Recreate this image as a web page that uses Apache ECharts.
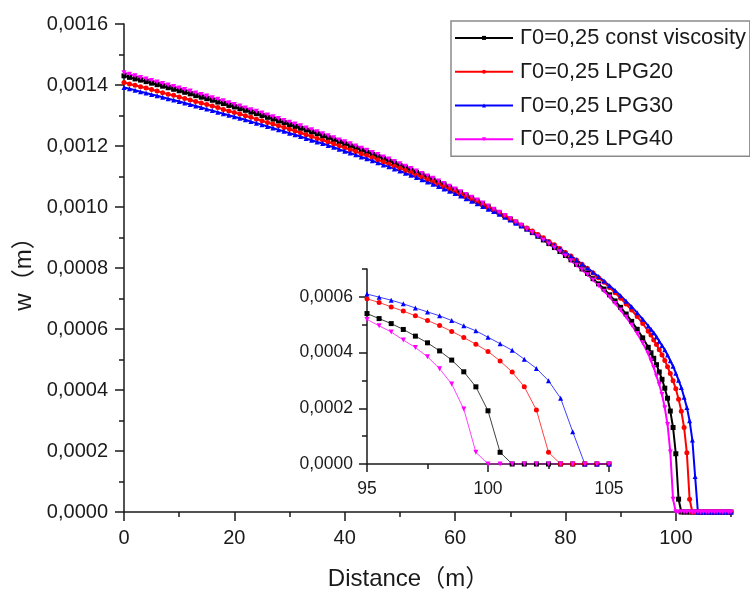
<!DOCTYPE html>
<html>
<head>
<meta charset="utf-8">
<script src="https://cdn.jsdelivr.net/npm/echarts@6/dist/echarts.min.js"></script>
<style>
html,body{margin:0;padding:0;background:#fff;}
#chart{width:750px;height:603px;}
</style>
</head>
<body>
<div id="chart"></div>
<script>
// Distance (m)
const xs = [0,1,2,3,4,5,6,7,8,9,10,11,12,13,14,15,16,17,18,19,20,21,22,23,24,25,26,27,28,29,30,31,32,33,34,35,36,37,38,39,40,41,42,43,44,45,46,47,48,49,50,51,52,53,54,55,56,57,58,59,60,61,62,63,64,65,66,67,68,69,70,71,72,73,74,75,76,77,78,79,80,81,82,83,84,85,86,87,88,89,90,91,92,93,94,
  95,95.5,96,96.5,97,97.5,98,98.5,99,99.5,100,100.5,101,101.5,102,102.5,103,103.5,104,104.5,105,105.5,106,106.5,107,107.5,108,108.5,109,109.5,110];

// w (m) : Γ0=0,25 const viscosity
const wConst = [.001430,.001425,.001420,.001416,.001411,.001406,.001401,.001396,.001391,.001386,
  .001381,.001376,.001371,.001365,.001360,.001355,.001350,.001344,.001339,.001333,
  .001328,.001322,.001317,.001311,.001306,.001300,.001294,.001288,.001282,.001276,
  .001270,.001264,.001258,.001252,.001246,.001240,.001233,.001227,.001220,.001214,
  .001207,.001200,.001194,.001187,.001180,.001173,.001166,.001159,.001151,.001144,
  .001136,.001129,.001121,.001113,.001106,.001098,.001089,.001081,.001073,.001064,
  .001056,.001047,.001038,.001029,.001020,.001010,.001001,.000991,.000981,.000971,
  .000960,.000950,.000939,.000928,.000916,.000904,.000892,.000880,.000867,.000854,
  .000841,.000827,.000812,.000797,.000782,.000765,.000748,.000731,.000712,.000692,
  .000671,.000649,.000625,.000599,.000571,
  .000540,.000522,.000504,.000483,.000459,.000435,.000406,.000373,.000331,.000277,
  .000191,.000042,0,0,0,0,0,0,0,0,0,0,0,0,0,0,0,0,0,0,0];

// Γ0=0,25 LPG20
const wLPG20 = [.001408,.001403,.001399,.001394,.001390,.001385,.001380,.001375,.001370,.001366,
  .001361,.001356,.001351,.001346,.001341,.001336,.001331,.001326,.001320,.001315,
  .001310,.001305,.001299,.001294,.001288,.001283,.001277,.001272,.001266,.001261,
  .001255,.001249,.001243,.001237,.001231,.001225,.001219,.001213,.001207,.001201,
  .001194,.001188,.001182,.001175,.001169,.001162,.001155,.001148,.001141,.001134,
  .001127,.001120,.001113,.001105,.001098,.001090,.001083,.001075,.001067,.001059,
  .001051,.001043,.001034,.001026,.001017,.001008,.000999,.000990,.000981,.000971,
  .000961,.000952,.000941,.000931,.000921,.000910,.000899,.000887,.000876,.000864,
  .000851,.000839,.000826,.000812,.000798,.000784,.000768,.000753,.000736,.000719,
  .000701,.000682,.000662,.000641,.000618,
  .000593,.000580,.000564,.000549,.000532,.000515,.000497,.000476,.000454,.000430,
  .000404,.000370,.000330,.000277,.000194,.000042,0,0,0,0,0,0,0,0,0,0,0,0,0,0,0];

// Γ0=0,25 LPG30
const wLPG30 = [.001392,.001388,.001383,.001378,.001374,.001369,.001365,.001360,.001355,.001351,
  .001346,.001341,.001336,.001331,.001326,.001321,.001316,.001311,.001306,.001301,
  .001296,.001291,.001286,.001280,.001275,.001270,.001264,.001259,.001253,.001248,
  .001242,.001237,.001231,.001225,.001219,.001213,.001208,.001202,.001196,.001189,
  .001183,.001177,.001171,.001164,.001158,.001152,.001145,.001138,.001132,.001125,
  .001118,.001111,.001104,.001097,.001089,.001082,.001075,.001067,.001059,.001052,
  .001044,.001036,.001027,.001019,.001011,.001002,.000993,.000985,.000976,.000966,
  .000957,.000947,.000938,.000928,.000918,.000907,.000896,.000886,.000874,.000863,
  .000851,.000839,.000826,.000813,.000800,.000786,.000772,.000757,.000742,.000726,
  .000709,.000691,.000673,.000653,.000632,
  .000610,.000599,.000588,.000575,.000560,.000546,.000532,.000515,.000496,.000478,
  .000455,.000432,.000408,.000376,.000343,.000299,.000236,.000116,0,0,0,0,0,0,0,0,0,0,0,0,0];

// Γ0=0,25 LPG40
const wLPG40 = [.001440,.001435,.001430,.001425,.001420,.001415,.001410,.001405,.001400,.001395,
  .001390,.001385,.001380,.001374,.001369,.001364,.001358,.001353,.001348,.001342,
  .001336,.001331,.001325,.001319,.001314,.001308,.001302,.001296,.001290,.001284,
  .001278,.001272,.001266,.001259,.001253,.001247,.001240,.001234,.001227,.001220,
  .001214,.001207,.001200,.001193,.001186,.001179,.001172,.001164,.001157,.001149,
  .001142,.001134,.001126,.001118,.001110,.001102,.001094,.001085,.001077,.001068,
  .001059,.001050,.001041,.001032,.001023,.001013,.001003,.000993,.000983,.000972,
  .000962,.000951,.000940,.000928,.000916,.000904,.000892,.000879,.000866,.000853,
  .000839,.000824,.000809,.000794,.000778,.000761,.000743,.000724,.000705,.000684,
  .000662,.000639,.000613,.000585,.000554,
  .000519,.000496,.000474,.000445,.000418,.000385,.000342,.000287,.000197,.000042,
  0,0,0,0,0,0,0,0,0,0,0,0,0,0,0,0,0,0,0,0,0];

const seriesNames = ['Γ0=0,25 const viscosity','Γ0=0,25 LPG20','Γ0=0,25 LPG30','Γ0=0,25 LPG40'];
const seriesValues = [wConst, wLPG20, wLPG30, wLPG40];
const seriesColors = ['#000000','#ff0000','#0000ff','#ff00ff'];
const seriesSymbols = ['rect','circle','triangle','triangle'];
const seriesRotate = [0,0,0,180];

// tick values
const mainXMajor = [0,20,40,60,80,100];
const mainXMinor = [10,30,50,70,90,110];
const insetYMajor = [0,0.0002,0.0004,0.0006];
const insetYMinor = [0.0001,0.0003,0.0005,0.0007];

const FONT = "'Liberation Sans', Arial, 'Noto Sans CJK SC', sans-serif";
const AX = '#1a1a1a';
const fmtW = v => Number(v).toFixed(4).replace('.', ',');

const chart = echarts.init(document.getElementById('chart'), null, {renderer:'canvas'});

function pts(vals){ return xs.map((x,i)=>[x, vals[i]]); }

const series = [];
seriesNames.forEach((n,i)=>{
  series.push({
    name:n, type:'line', xAxisIndex:0, yAxisIndex:0,
    data: pts(seriesValues[i]),
    symbol: seriesSymbols[i], symbolRotate: seriesRotate[i], symbolSize: 5,
    showSymbol:true, showAllSymbol:true,
    lineStyle:{color:seriesColors[i], width:2},
    itemStyle:{color:seriesColors[i]},
    emphasis:{disabled:true}, z:2
  });
});
seriesNames.forEach((n,i)=>{
  series.push({
    name:n, type:'line', xAxisIndex:2, yAxisIndex:1,
    data: pts(seriesValues[i]),
    symbol: seriesSymbols[i], symbolRotate: seriesRotate[i], symbolSize: 5,
    showSymbol:true, showAllSymbol:true, clip:true,
    lineStyle:{color:seriesColors[i], width:1, opacity:0.75},
    itemStyle:{color:seriesColors[i]},
    emphasis:{disabled:true}, z:3
  });
});

const option = {
  animation:false,
  textStyle:{fontFamily:FONT},
  grid:[
    {left:124, right:19, top:24, bottom:91, containLabel:false, outerBoundsMode:'none'},
    {left:367, right:141, top:269, bottom:139, containLabel:false, outerBoundsMode:'none'}
  ],
  legend:{
    orient:'vertical', left:451, top:21,
    data:seriesNames,
    itemWidth:58, itemHeight:5, itemGap:12,
    padding:[6,4,6,3],
    borderColor:'#8a8a8a', borderWidth:1.5, backgroundColor:'rgba(255,255,255,0)',
    textStyle:{fontFamily:FONT, fontSize:21.8, color:'#1a1a1a', padding:[0,0,0,2]},
    selectedMode:false
  },
  xAxis:[
    {type:'value', gridIndex:0, min:0, max:110, interval:10, position:'bottom',
     name:'Distance（m）', nameLocation:'middle', nameGap:55,
     nameTextStyle:{fontFamily:FONT, fontSize:24, color:'#1a1a1a', padding:[0,38,0,0]},
     axisLine:{onZero:false, lineStyle:{color:AX, width:1.5}},
     axisTick:{show:true, length:9, customValues:mainXMajor, lineStyle:{color:AX, width:1.5}},
     axisLabel:{customValues:mainXMajor, fontFamily:FONT, fontSize:20, color:'#1a1a1a', margin:16},
     splitLine:{show:false}},
    {type:'value', gridIndex:0, min:0, max:110, interval:10, position:'bottom',
     axisLine:{show:false, onZero:false},
     axisTick:{show:true, length:5, customValues:mainXMinor, lineStyle:{color:AX, width:1.5}},
     axisLabel:{show:false}, splitLine:{show:false}},
    {type:'value', gridIndex:1, min:95, max:105, interval:5, position:'bottom',
     axisLine:{onZero:false, lineStyle:{color:AX, width:1.5}},
     axisTick:{show:true, length:8, lineStyle:{color:AX, width:1.5}},
     minorTick:{show:true, splitNumber:2, length:5, lineStyle:{color:AX, width:1.5}},
     axisLabel:{fontFamily:FONT, fontSize:17.5, color:'#1a1a1a', margin:16},
     splitLine:{show:false}, minorSplitLine:{show:false}}
  ],
  yAxis:[
    {type:'value', gridIndex:0, min:0, max:0.0016, interval:0.0002, position:'left',
     name:'w（m）', nameLocation:'middle', nameGap:82,
     nameTextStyle:{fontFamily:FONT, fontSize:24, color:'#1a1a1a'},
     axisLine:{show:true, onZero:false, lineStyle:{color:AX, width:1.5}},
     axisTick:{show:true, length:9, lineStyle:{color:AX, width:1.5}},
     minorTick:{show:true, splitNumber:2, length:5, lineStyle:{color:AX, width:1.5}},
     axisLabel:{formatter:fmtW, fontFamily:FONT, fontSize:20, color:'#1a1a1a', margin:16},
     splitLine:{show:false}, minorSplitLine:{show:false}},
    {type:'value', gridIndex:1, min:0, max:0.0007, interval:0.0001, position:'left',
     axisLine:{show:true, onZero:false, lineStyle:{color:AX, width:1.5}},
     axisTick:{show:true, length:8, customValues:insetYMajor, lineStyle:{color:AX, width:1.5}},
     axisLabel:{customValues:insetYMajor, formatter:fmtW, fontFamily:FONT, fontSize:17.5, color:'#1a1a1a', margin:14},
     splitLine:{show:false}},
    {type:'value', gridIndex:1, min:0, max:0.0007, interval:0.0001, position:'left',
     axisLine:{show:false, onZero:false},
     axisTick:{show:true, length:5, customValues:insetYMinor, lineStyle:{color:AX, width:1.5}},
     axisLabel:{show:false}, splitLine:{show:false}}
  ],
  series: series
};
chart.setOption(option);
</script>
</body>
</html>
